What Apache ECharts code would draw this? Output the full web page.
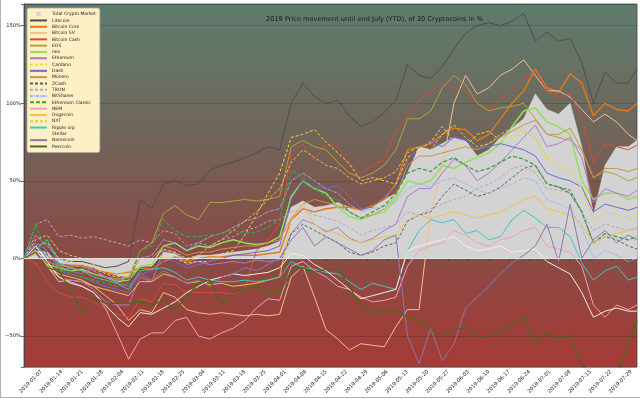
<!DOCTYPE html>
<html>
<head>
<meta charset="utf-8">
<script src="https://cdn.jsdelivr.net/npm/echarts@6/dist/echarts.min.js"></script>
<style>
html, body { margin: 0; padding: 0; background: #fff; }
#chart { width: 640px; height: 399px; }
</style>
</head>
<body>
<div id="chart"></div>
<script>
var sampleDates = [
  '2019-01-01','2019-01-05','2019-01-09','2019-01-13','2019-01-17','2019-01-21','2019-01-25','2019-01-29',
  '2019-02-02','2019-02-06','2019-02-10','2019-02-14','2019-02-18','2019-02-22','2019-02-26',
  '2019-03-02','2019-03-06','2019-03-10','2019-03-14','2019-03-18','2019-03-22','2019-03-26','2019-03-30',
  '2019-04-03','2019-04-07','2019-04-11','2019-04-15','2019-04-19','2019-04-23','2019-04-27',
  '2019-05-01','2019-05-05','2019-05-09','2019-05-13','2019-05-17','2019-05-21','2019-05-25','2019-05-29',
  '2019-06-02','2019-06-06','2019-06-10','2019-06-14','2019-06-18','2019-06-22','2019-06-26','2019-06-30',
  '2019-07-04','2019-07-08','2019-07-12','2019-07-16','2019-07-20','2019-07-24','2019-07-28','2019-07-31'
];

var totalMarket = [0,5,4,-3,-4,-4,-6,-9, -11,-12,-5,-5,4,3,-1, 2,2,3,4,5,6,8,11, 33,37,33,34,36,33,31,
  34,38,42,55,72,70,74,78, 76,66,70,78,84,90,106,96, 93,100,72,28,60,72,72,76];
var litecoin = [0,8,5,0,-2,-2,-4,-6, -5,-2,38,32,48,50,47, 48,57,60,62,65,68,72,70, 100,113,104,100,102,92,85,
  88,94,102,125,118,116,124,135, 145,150,152,150,153,158,140,146, 140,142,126,100,120,113,113,122];
var bitcoinCore = [0,3,-2,-5,-5,-5,-7,-9, -10,-9,-6,-7,-2,1,-2, 0,1,1,2,2,2,3,4, 25,32,30,32,33,33,31,
  34,38,48,70,72,74,80,84, 83,76,80,90,100,108,122,110, 107,119,113,92,100,96,95,100];
var bitcoinSV = [0,3,-5,-15,-14,-15,-18,-24, -30,-40,-33,-35,-22,-25,-33, -35,-36,-35,-36,-37,-36,-37,-36, -12,-5,-25,-46,-52,-59,-55,
  -56,-57,-44,-33,-33,30,60,100, 118,106,110,118,122,128,118,108, 108,104,96,88,93,88,80,76];
var bitcoinCash = [0,-3,-15,-22,-25,-25,-28,-33, -36,-38,-26,-28,-16,-17,-22, -22,-22,-22,-23,-20,5,12,22, 68,74,63,74,72,60,55,
  60,64,82,92,102,108,112,110, 108,100,96,102,108,116,121,108, 104,106,90,62,74,72,70,73];
var eos = [0,5,-5,-8,-6,-8,-10,-12, -15,-12,5,10,29,34,28, 25,36,36,37,38,37,38,40, 72,76,72,70,62,55,52,
  55,60,70,90,90,95,110,118, 112,100,95,97,98,100,90,80, 78,76,70,52,56,54,50,52];
var neo = [0,3,-4,-6,-8,-7,-10,-12, -15,-14,-5,-4,8,10,5, 8,7,10,12,10,9,10,14, 40,50,45,42,33,27,25,
  28,30,38,50,48,50,60,58, 62,65,68,74,85,95,97,88, 85,80,50,38,42,42,38,40];
var ethereum = [0,5,-5,-12,-14,-15,-20,-28, -30,-30,-12,-15,5,4,-4, -2,-4,-3,-2,-3,-1,-2,-1, 16,25,22,17,20,13,10,
  13,18,22,40,45,45,55,64, 60,50,55,62,70,78,86,72, 74,78,65,36,45,42,40,44];
var cardano = [0,8,10,0,-2,-4,-6,-10, -12,-10,-2,-2,2,0,-3, -2,-2,3,5,15,28,42,55, 78,80,83,75,68,61,50,
  52,50,48,65,70,75,85,75, 72,80,82,76,78,82,78,65, 60,58,50,30,35,34,30,28];
var dash = [0,10,0,-8,-10,-12,-15,-18, -20,-22,-10,-8,0,-2,-6, -4,-2,0,2,3,4,5,8, 38,50,46,45,47,40,32,
  33,40,46,63,72,76,72,78, 76,70,72,74,72,70,66,55, 52,50,46,30,35,33,31,33];
var monero = [0,8,2,-4,-6,-8,-10,-12, -13,-12,0,0,8,6,2, 4,4,6,7,8,8,10,12, 26,35,38,36,34,30,26,
  28,32,40,60,66,66,68,70, 72,70,74,78,82,86,89,80, 80,84,70,52,58,58,56,58];
var zcash = [0,6,-2,-10,-12,-14,-16,-20, -22,-24,-12,-10,-2,-4,-10, -8,-8,-7,-8,-9,-8,-6,-4, 16,22,18,14,10,4,2,
  4,8,10,24,28,30,40,48, 44,40,42,46,52,58,60,48, 46,44,30,10,14,12,8,6];
var tron = [0,22,25,14,15,13,14,12, 10,8,12,10,18,16,8, 10,8,12,14,18,20,24,25, 30,32,28,26,24,20,15,
  18,20,22,30,28,32,35,38, 40,45,48,52,58,60,55,45, 44,42,30,18,22,20,18,20];
var bitshares = [0,15,8,0,-4,-5,-8,-12, -14,-12,0,2,12,10,5, 10,14,16,20,24,26,30,32, 50,55,50,45,42,35,30,
  32,34,36,45,48,46,50,52, 48,44,42,45,48,52,50,38, 35,32,20,0,5,2,-2,0];
var ethClassic = [0,22,2,-6,-10,-12,-14,-16, -18,-16,5,8,25,18,14, 14,15,16,18,16,17,20,25, 57,52,45,40,38,30,26,
  30,34,42,55,58,56,62,65, 60,56,58,62,66,64,60,48, 46,42,30,10,16,14,12,14];
var nem = [0,5,-5,-12,-15,-18,-22,-32, -48,-65,-52,-48,-48,-40,-38, -50,-52,-48,-45,-40,-32,-26,-27, -5,-2,-8,-12,-18,-20,-25,
  -28,-27,-25,-5,5,8,10,18, 15,10,8,12,14,18,20,8, 6,4,-5,-30,-38,-30,-33,-30];
var dogecoin = [0,3,-5,-10,-12,-14,-18,-20, -22,-24,-15,-15,-10,-12,-16, -15,-17,-16,-18,-17,-16,-14,-12, 25,35,22,18,16,12,10,
  12,14,15,25,28,26,28,30, 28,26,28,30,34,38,40,32, 30,28,22,10,14,16,18,19];
var nxt = [0,12,15,5,2,0,-4,-8, -10,-8,0,-2,6,4,0, 2,8,12,18,24,30,38,45, 62,70,65,60,58,52,48,
  50,52,56,68,72,70,80,86, 78,72,74,80,84,82,78,64, 58,55,45,25,30,28,26,24];
var ripple = [0,6,12,-3,-6,-8,-12,-14, -16,-20,-8,-7,-6,-9,-14, -12,-14,-15,-15,-14,-15,-14,-12, -2,-6,-7,-9,-10,-15,-20,
  -16,-18,-20,5,18,25,23,25, 16,18,12,14,25,31,26,20, 20,14,-3,-14,-8,-5,-14,-12];
var stellar = [0,8,-2,-12,-16,-18,-22,-30, -38,-44,-35,-36,-32,-28,-22, -18,-14,-12,-10,-11,-10,-9,-6, 3,2,-4,-8,-14,-20,-26,
  -24,-22,-20,5,8,10,12,14, 8,5,6,8,4,5,6,-2, -6,-10,-22,-38,-34,-32,-34,-34];
var namecoin = [0,10,5,-5,-8,-10,-6,-12, -15,-18,-10,-14,-8,-12,-16, -14,-18,-12,-10,-6,-8,-4,0, 12,20,8,14,10,6,2,
  5,12,15,-50,-68,-45,-66,-55, -32,-25,-18,-10,-3,2,8,22, -2,35,0,12,18,10,15,12];
var peercoin = [0,4,-6,-8,-20,-35,-25,-29, -29,-29,-28,-30,-27,-33,-25, -16,-14,-30,-22,-20,-18,-22,-22, -8,-6,-9,-7,-7,-18,-31,
  -35,-33,-34,-38,-40,-46,-50,-46, -44,-50,-50,-48,-42,-38,-55,-48, -52,-50,-68,-80,-80,-75,-55,-40];

var yTicks = [-50, 0, 50, 100, 150];

// every day of the period, x axis is daily
var days = [];
var start = Date.UTC(2019, 0, 1);
for (var i = 0; i < 212; i++) {
  days.push(new Date(start + i * 86400000).toISOString().slice(0, 10));
}
function isMonday(idx) { return idx >= 6 && (idx - 6) % 7 === 0; }

function daily(vals) {
  var out = days.map(function () { return null; });
  sampleDates.forEach(function (d, k) { out[days.indexOf(d)] = vals[k]; });
  return out;
}

var lines = [
  { name: 'Litecoin', data: litecoin, color: '#4d4d4d' },
  { name: 'Bitcoin Core', data: bitcoinCore, color: '#e8761c', width: 1.4 },
  { name: 'Bitcoin SV', data: bitcoinSV, color: '#f3bf92' },
  { name: 'Bitcoin Cash', data: bitcoinCash, color: '#d94a3c' },
  { name: 'EOS', data: eos, color: '#b5a13c' },
  { name: 'neo', data: neo, color: '#92e05a', width: 1.5 },
  { name: 'Ethereum', data: ethereum, color: '#b07ac8' },
  { name: 'Cardano', data: cardano, color: '#efdf3a', dash: [3, 2] },
  { name: 'Dash', data: dash, color: '#6a6ad8' },
  { name: 'Monero', data: monero, color: '#c49458' },
  { name: 'ZCash', data: zcash, color: '#5c5c5c', dash: [3, 2] },
  { name: 'TRON', data: tron, color: '#b8a0c8', dash: [3, 2] },
  { name: 'BitShares', data: bitshares, color: '#9ab4ee', dash: [3, 1, 1, 1] },
  { name: 'Ethereum Classic', data: ethClassic, color: '#3aa04a', dash: [4, 2], width: 1.3 },
  { name: 'NEM', data: nem, color: '#f0a0b8' },
  { name: 'Dogecoin', data: dogecoin, color: '#f2c24a' },
  { name: 'NXT', data: nxt, color: '#e6c85a', dash: [3, 2] },
  { name: 'Ripple xrp', data: ripple, color: '#3cc8c0' },
  { name: 'Stellar', data: stellar, color: '#f5efe0' },
  { name: 'Namecoin', data: namecoin, color: '#8a78b0' },
  { name: 'Peercoin', data: peercoin, color: '#4e6a18', width: 1.3 }
];

var series = [{
  name: 'Total Crypto Market',
  type: 'line',
  data: daily(totalMarket),
  connectNulls: true,
  symbol: 'rect',
  showSymbol: false,
  color: '#d3d3d3',
  lineStyle: { width: 0.5, color: '#dedede' },
  areaStyle: { color: '#d3d3d3', opacity: 1 },
  markLine: {
    silent: true, symbol: 'none', label: { show: false },
    lineStyle: { color: '#e2e2e2', width: 1, type: 'solid' },
    data: [{ yAxis: 0 }]
  }
}];
lines.forEach(function (l) {
  series.push({
    name: l.name,
    type: 'line',
    data: daily(l.data),
    connectNulls: true,
    symbol: 'none',
    color: l.color,
    lineStyle: { width: l.width || 1, color: l.color, type: l.dash || 'solid' }
  });
});

// legend: plain line samples, a small grey square for the market total
var legendData = [{
  name: 'Total Crypto Market',
  itemStyle: { opacity: 1, color: '#d3d3d3', borderWidth: 0 },
  lineStyle: { opacity: 0 }
}];
lines.forEach(function (l) { legendData.push({ name: l.name }); });

var chart = echarts.init(document.getElementById('chart'));
chart.setOption({
  animation: false,
  backgroundColor: '#fff',
  textStyle: { fontFamily: 'DejaVu Sans' },
  title: {
    text: '2019 Price movement until end July (YTD), of 20 Cryptocoins in %',
    left: 261, top: 11,
    textStyle: { fontSize: 6.6, fontWeight: 'normal', color: '#1a1a1a', fontFamily: 'DejaVu Sans' }
  },
  legend: {
    orient: 'vertical', left: 27, top: 8,
    itemWidth: 17, itemHeight: 5.2, itemGap: 0,
    padding: [3, 4, 3, 2],
    backgroundColor: '#fcf0c4', borderColor: '#a8a8a8', borderWidth: 0.8, borderRadius: 2,
    itemStyle: { opacity: 0, borderWidth: 0 },
    textStyle: { fontSize: 4.5, color: '#222', fontFamily: 'DejaVu Sans', lineHeight: 6.3 },
    data: legendData
  },
  grid: {
    show: true, left: 24, right: 3, top: 4, bottom: 32,
    borderColor: '#444', borderWidth: 0.8,
    backgroundColor: new echarts.graphic.LinearGradient(0, 0, 0, 1, [
      { offset: 0, color: '#5e7c6d' },
      { offset: 0.35, color: '#6f665a' },
      { offset: 0.62, color: '#854e48' },
      { offset: 1, color: '#a63a36' }
    ])
  },
  xAxis: {
    type: 'category', data: days, boundaryGap: false,
    axisLine: { lineStyle: { color: '#444', width: 0.8 } },
    axisTick: { interval: isMonday, length: 3, lineStyle: { color: '#444', width: 0.8 } },
    axisLabel: { interval: isMonday, rotate: 45, fontSize: 5.2, margin: 4, color: '#222', fontFamily: 'DejaVu Sans' },
    splitLine: { show: false }
  },
  yAxis: {
    type: 'value', min: -70, max: 164, splitNumber: 5,
    axisLine: { show: true, lineStyle: { color: '#444', width: 0.8 } },
    axisTick: { show: true, length: 3, lineStyle: { color: '#444', width: 0.8 } },
    axisLabel: {
      fontSize: 5.2, margin: 3, color: '#222', fontFamily: 'DejaVu Sans',
      formatter: function (v) {
        if (yTicks.indexOf(v) < 0) return '';
        return (v < 0 ? '\u2212' + (-v) : v) + '%';
      }
    },
    splitLine: { lineStyle: { color: 'rgba(30,30,30,0.3)', width: 0.7 } }
  },
  graphic: [
    { type: 'line', shape: { x1: 0.5, y1: 0, x2: 0.5, y2: 398 }, style: { stroke: '#b0b0b0', lineWidth: 1 } },
    { type: 'line', shape: { x1: 0, y1: 397.5, x2: 640, y2: 397.5 }, style: { stroke: '#b0b0b0', lineWidth: 1 } }
  ],
  series: series
});
</script>
</body>
</html>
